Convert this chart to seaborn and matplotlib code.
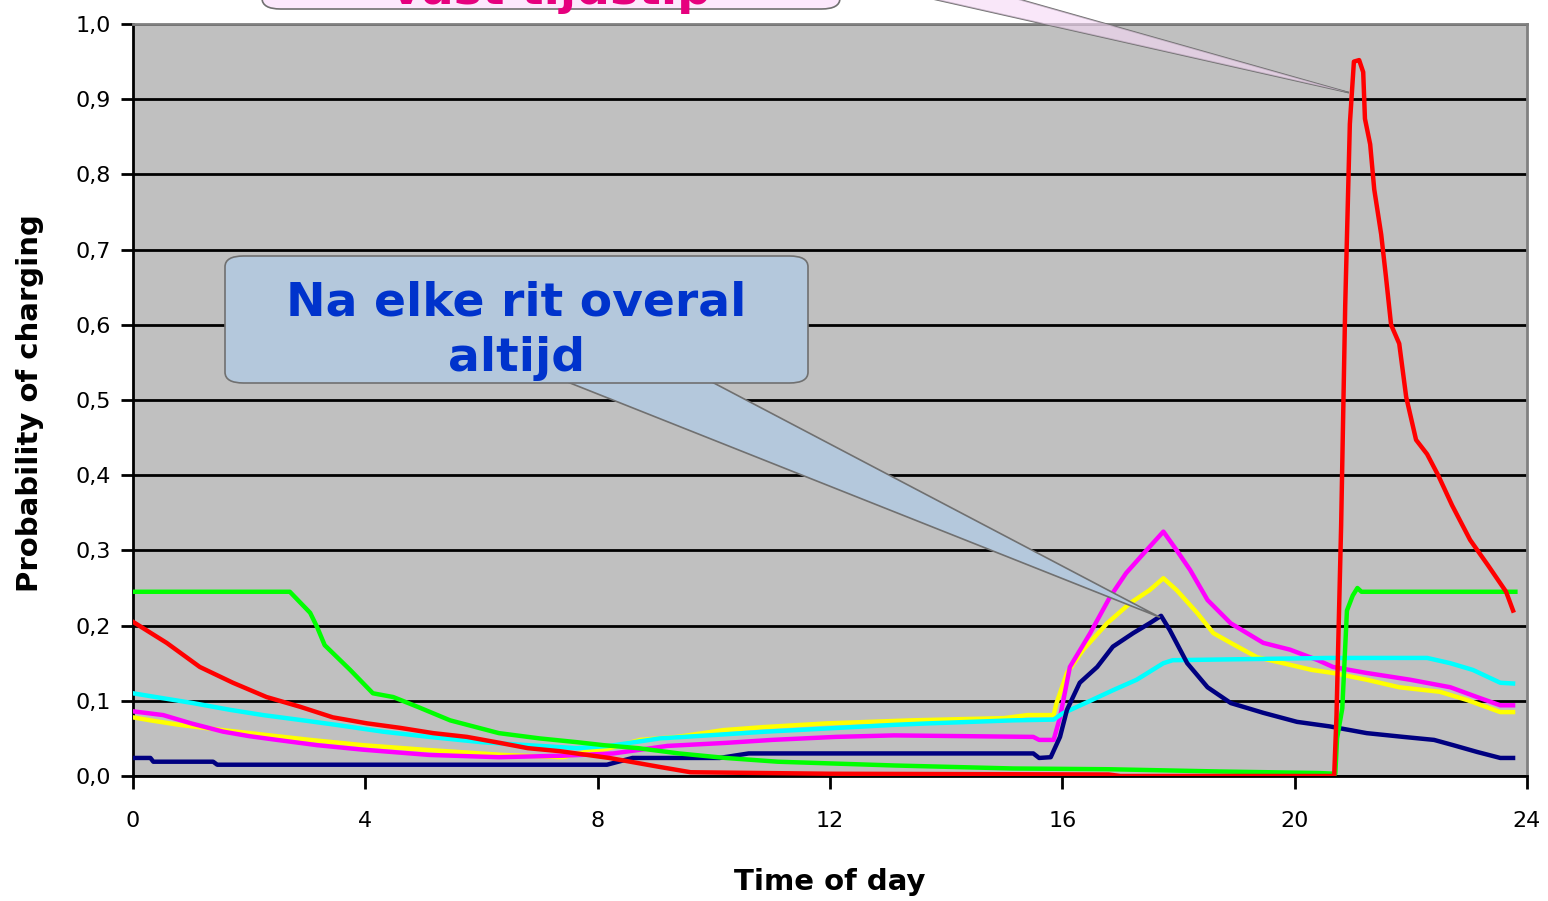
import matplotlib
matplotlib.use("Agg")
import matplotlib.pyplot as plt
import seaborn as sns
import pandas as pd
from matplotlib.patches import FancyBboxPatch, Polygon
from matplotlib.ticker import FuncFormatter

# ---------------- data ----------------
x_ticks = [0, 4, 8, 12, 16, 20, 24]
y_ticks = [0.0, 0.1, 0.2, 0.3, 0.4, 0.5, 0.6, 0.7, 0.8, 0.9, 1.0]

red_t = [0, 0.58, 1.15, 1.72, 2.3, 2.88, 3.44, 4.03, 4.6, 5.17, 5.75, 6.32, 6.8, 7.35, 8.2,
         9.07, 9.6, 12, 16.8, 17.0, 20.68, 20.72, 20.8, 20.87, 20.95, 21.02, 21.11, 21.18,
         21.21, 21.30, 21.37, 21.49, 21.57, 21.66, 21.80, 21.92, 22.09, 22.28, 22.47, 22.71,
         23.02, 23.33, 23.64, 23.76]
red_p = [0.205, 0.177, 0.145, 0.124, 0.105, 0.092, 0.078, 0.070, 0.064, 0.057, 0.052, 0.044,
         0.037, 0.033, 0.024, 0.012, 0.005, 0.003, 0.002, 0.0, 0.0, 0.08, 0.333, 0.625, 0.867,
         0.95, 0.952, 0.936, 0.874, 0.84, 0.78, 0.72, 0.665, 0.60, 0.575, 0.504, 0.447, 0.428,
         0.40, 0.36, 0.314, 0.28, 0.245, 0.22]

green_t = [0, 2.7, 3.05, 3.17, 3.3, 3.74, 4.13, 4.48, 4.9, 5.46, 6.3, 7.0, 7.64, 8.1, 8.7, 9.4,
           10.2, 11.1, 13.1, 15.15, 16.8, 18.7, 20.4, 20.7, 20.73, 20.82, 20.9, 21.0, 21.08,
           21.15, 23.8]
green_p = [0.245, 0.245, 0.217, 0.198, 0.174, 0.141, 0.11, 0.105, 0.092, 0.074, 0.057, 0.05,
           0.045, 0.041, 0.037, 0.03, 0.024, 0.019, 0.014, 0.010, 0.009, 0.006, 0.004, 0.003,
           0.05, 0.09, 0.22, 0.24, 0.25, 0.245, 0.245]

cyan_t = [0, 0.47, 1.03, 1.67, 2.24, 2.93, 3.5, 4.3, 5.1, 6.0, 6.8, 7.64, 8.2, 9.07, 10.1, 10.9,
          11.9, 13.1, 13.7, 15.15, 15.85, 16.0, 16.48, 16.87, 17.28, 17.74, 17.9, 20.6, 22.28,
          22.68, 23.07, 23.54, 23.76]
cyan_p = [0.11, 0.104, 0.097, 0.088, 0.081, 0.074, 0.068, 0.059, 0.052, 0.045, 0.041, 0.037,
          0.04, 0.05, 0.055, 0.059, 0.063, 0.068, 0.07, 0.074, 0.075, 0.083, 0.10, 0.114, 0.128,
          0.15, 0.154, 0.157, 0.157, 0.15, 0.141, 0.124, 0.123]

magenta_t = [0, 0.52, 1.0, 1.55, 2.0, 2.48, 3.17, 3.96, 5.1, 6.3, 7.4, 8.27, 9.2, 10.2, 11.0,
             12.1, 13.1, 15.5, 15.6, 15.85, 15.96, 16.13, 16.48, 16.82, 17.1, 17.4, 17.74,
             17.97, 18.2, 18.5, 18.9, 19.46, 19.92, 20.4, 20.66, 21.24, 21.99, 22.68, 23.14,
             23.54, 23.76]
magenta_p = [0.086, 0.081, 0.07, 0.059, 0.053, 0.048, 0.041, 0.035, 0.028, 0.025, 0.027, 0.03,
             0.04, 0.044, 0.048, 0.052, 0.054, 0.052, 0.048, 0.048, 0.078, 0.145, 0.19, 0.238,
             0.27, 0.296, 0.325, 0.30, 0.274, 0.234, 0.203, 0.177, 0.168, 0.154, 0.145, 0.137,
             0.128, 0.118, 0.105, 0.094, 0.094]

yellow_t = [0, 0.3, 0.8, 1.55, 2.24, 3.05, 3.96, 5.0, 6.37, 7.4, 7.8, 8.1, 8.73, 9.37, 10.16,
            10.85, 11.95, 13.4, 15.0, 15.4, 15.85, 15.9, 16.08, 16.36, 16.77, 17.17, 17.5,
            17.74, 17.97, 18.32, 18.6, 18.9, 19.35, 19.8, 20.3, 20.66, 21.24, 21.8, 22.5,
            22.97, 23.54, 23.76]
yellow_p = [0.078, 0.074, 0.068, 0.061, 0.055, 0.048, 0.041, 0.035, 0.028, 0.025, 0.032, 0.035,
            0.048, 0.052, 0.061, 0.065, 0.07, 0.074, 0.077, 0.081, 0.081, 0.097, 0.137, 0.168,
            0.203, 0.23, 0.247, 0.263, 0.247, 0.217, 0.19, 0.177, 0.158, 0.15, 0.141, 0.137,
            0.128, 0.118, 0.112, 0.101, 0.085, 0.085]

navy_t = [0, 0.3, 0.35, 1.38, 1.45, 8.16, 8.6, 10.1, 10.6, 15.5, 15.6, 15.8, 15.96, 16.08, 16.3,
          16.6, 16.87, 17.22, 17.5, 17.7, 17.85, 18.15, 18.5, 18.9, 19.46, 20.04, 20.6, 21.24,
          21.87, 22.4, 22.73, 23.14, 23.54, 23.76]
navy_p = [0.024, 0.024, 0.019, 0.019, 0.015, 0.015, 0.024, 0.024, 0.03, 0.03, 0.024, 0.025,
          0.052, 0.088, 0.124, 0.145, 0.172, 0.19, 0.203, 0.213, 0.194, 0.15, 0.118, 0.097,
          0.084, 0.072, 0.066, 0.057, 0.052, 0.048, 0.041, 0.032, 0.024, 0.024]

callout_blue_text = "Na elke rit overal\naltijd"
callout_pink_text = "vast tijdstip"
blue_tip = (17.68, 0.211)   # navy peak
pink_tip = (20.92, 0.909)   # red peak

# ---------------- figure ----------------
W, H = 1548, 901
fig = plt.figure(figsize=(W / 100, H / 100), dpi=100)
fig.patch.set_facecolor("white")
ax = fig.add_axes([133 / W, 1 - 776 / H, (1527 - 133) / W, (776 - 24) / H])
ax.set_facecolor("#c0c0c0")

series = [
    (yellow_t, yellow_p, "#ffff00"),
    (magenta_t, magenta_p, "#ff00ff"),
    (cyan_t, cyan_p, "#00ffff"),
    (navy_t, navy_p, "#000080"),
    (green_t, green_p, "#00ff00"),
    (red_t, red_p, "#ff0000"),
]
for t, p, c in series:
    df = pd.DataFrame({"t": t, "p": p})
    sns.lineplot(data=df, x="t", y="p", color=c, lw=3.2, ax=ax,
                 estimator=None, sort=False, zorder=3)

ax.set_xlim(0, 24)
ax.set_ylim(0, 1.0)
ax.set_xticks(x_ticks)
ax.set_yticks(y_ticks)
ax.yaxis.set_major_formatter(FuncFormatter(lambda v, pos: f"{v:.1f}".replace(".", ",")))
ax.grid(axis="y", color="black", lw=2.0, zorder=1)
ax.grid(axis="x", visible=False)
ax.set_axisbelow(True)

for s in ["left", "bottom"]:
    ax.spines[s].set_color("black")
    ax.spines[s].set_linewidth(2.0)
for s in ["top", "right"]:
    ax.spines[s].set_color("#808080")
    ax.spines[s].set_linewidth(2.0)

ax.tick_params(axis="both", direction="out", length=9, width=2, color="black",
               labelsize=16)
ax.tick_params(axis="y", pad=7)
ax.tick_params(axis="x", pad=16)

ax.set_xlabel("Time of day", fontsize=21, fontweight="bold")
ax.set_ylabel("Probability of charging", fontsize=21, fontweight="bold")
ax.xaxis.label.set_va("center")
ax.yaxis.label.set_va("center")
ax.xaxis.set_label_coords(0.5, (776 - 882) / 752)
ax.yaxis.set_label_coords((30 - 133) / 1394, 0.5 + (397 - 400) / 752)

# ---------------- callouts ----------------
def px(x, y):
    return (x / W, 1 - y / H)

fig.canvas.draw()
to_fig = fig.transFigure.inverted()

# blue callout
bt = to_fig.transform(ax.transData.transform(blue_tip))
bx0, by0 = px(225, 383)
bx1, by1 = px(808, 256)
fig.patches.append(FancyBboxPatch((bx0, by0), bx1 - bx0, by1 - by0,
                                  boxstyle="round,pad=0,rounding_size=0.012",
                                  transform=fig.transFigure, facecolor="#b4c8dc",
                                  edgecolor="#707070", lw=1.2, zorder=5))
fig.patches.append(Polygon([px(565, 381), px(710, 381), tuple(bt)], closed=True,
                           transform=fig.transFigure, facecolor="#b4c8dc",
                           edgecolor="#707070", lw=1.2, zorder=4))
fig.text((bx0 + bx1) / 2, px(0, 331)[1], callout_blue_text, ha="center", va="center",
         fontsize=34, fontweight="bold", color="#0033cc", linespacing=1.3, zorder=6)

# pink callout (cut off at the top, as in the reference)
pt = to_fig.transform(ax.transData.transform(pink_tip))
fig.patches.append(Polygon([px(760, -40), px(880, -40), tuple(pt)], closed=True,
                           transform=fig.transFigure, facecolor="#f6d8f6", alpha=0.6,
                           edgecolor="none", zorder=4))
fig.lines.append(plt.Line2D([px(760, -40)[0], pt[0]], [px(760, -40)[1], pt[1]],
                            transform=fig.transFigure, color="#707070", lw=1.2, zorder=4))
fig.lines.append(plt.Line2D([px(880, -40)[0], pt[0]], [px(880, -40)[1], pt[1]],
                            transform=fig.transFigure, color="#707070", lw=1.2, zorder=4))
px0, py0 = px(262, 9)
px1, py1 = px(840, -120)
fig.patches.append(FancyBboxPatch((px0, py0), px1 - px0, py1 - py0,
                                  boxstyle="round,pad=0,rounding_size=0.012",
                                  transform=fig.transFigure, facecolor="#fce8fc",
                                  edgecolor="#707070", lw=1.2, zorder=5))
fig.text((px0 + px1) / 2, px(0, 4)[1], callout_pink_text, ha="center", va="baseline",
         fontsize=34, fontweight="bold", color="#e6007e", zorder=6)

fig.savefig("out.png", dpi=100)
